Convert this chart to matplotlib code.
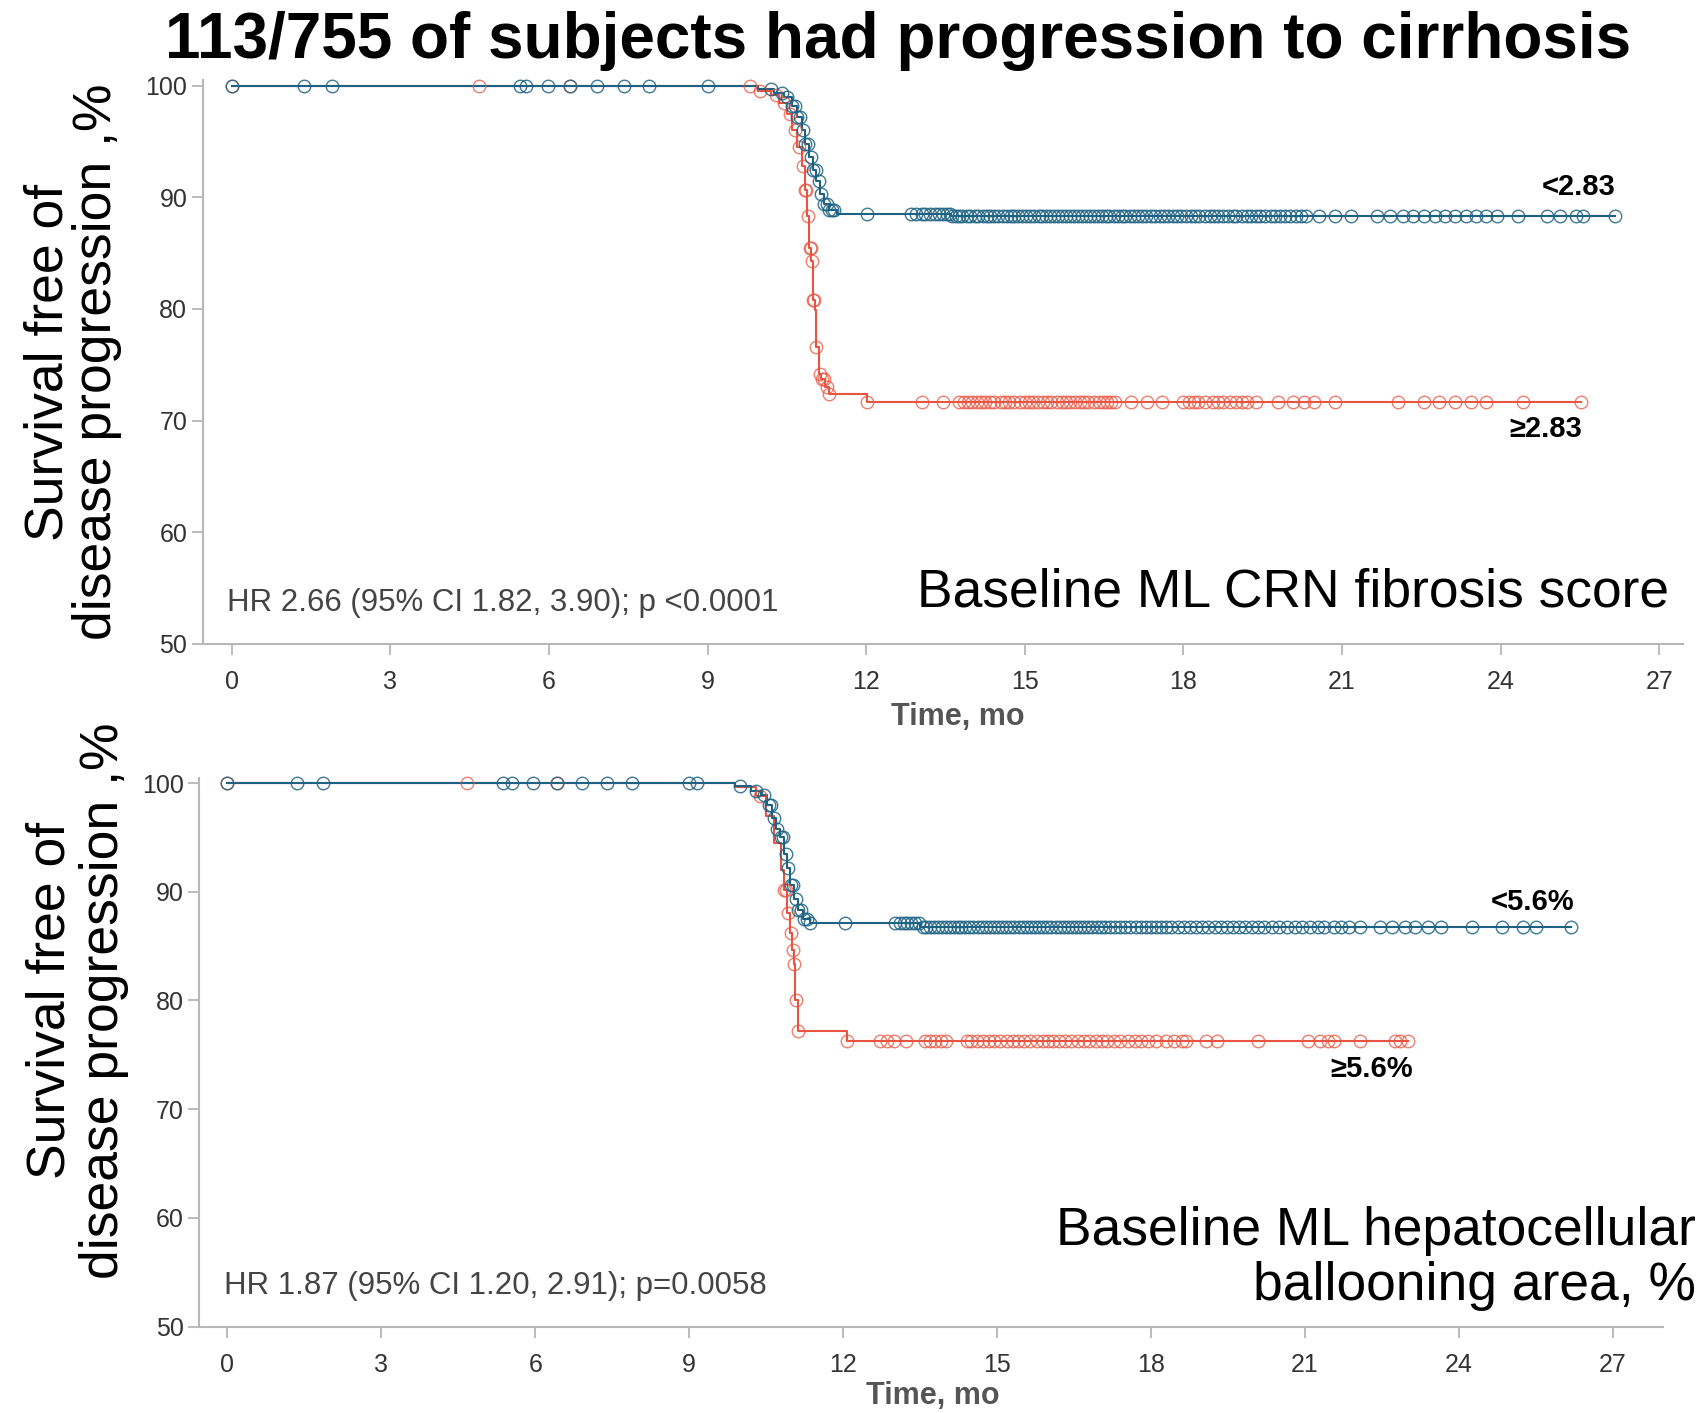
import numpy as np
import matplotlib
matplotlib.use("Agg")
import matplotlib.pyplot as plt

plt.rcParams['font.family'] = ['Liberation Sans', 'DejaVu Sans']

BLUE = '#1d6283'
RED = '#e8543f'

# ---- top panel: ML CRN fibrosis score ----
top_blue_t = [0, 9.95, 10.25, 10.45, 10.6, 10.7, 10.78, 10.85, 10.92, 10.99, 11.06, 11.12, 11.2, 11.3, 11.44, 13.6]
top_blue_s = [100, 99.7, 99.4, 99.0, 98.2, 97.2, 96.0, 94.8, 93.6, 92.5, 91.5, 90.3, 89.4, 88.9, 88.5, 88.3]
top_red_t = [0, 9.95, 10.2, 10.35, 10.5, 10.6, 10.69, 10.78, 10.84, 10.88, 10.92, 10.96, 11.0, 11.03, 11.06, 11.1, 11.15, 11.22, 11.3, 12.01]
top_red_s = [100, 99.5, 99.2, 98.5, 97.5, 96.0, 94.5, 92.8, 90.7, 88.3, 85.5, 84.3, 80.8, 79.9, 76.6, 74.2, 73.7, 73.0, 72.4, 71.7]

top_blue_cens = [0, 1.36, 1.89, 5.45, 5.57, 5.98, 6.40, 6.91, 7.42, 7.90, 9.01,
                 10.2, 10.4, 10.5, 10.6, 10.65, 10.7, 10.75, 10.8, 10.85, 10.9, 10.95, 11.0,
                 11.05, 11.1, 11.15, 11.2, 11.25, 11.3, 11.35, 11.4,
                 12.01, 12.85, 12.95, 13.05, 13.12, 13.2, 13.3, 13.38, 13.45, 13.52, 13.58, 13.63,
                 13.7, 13.76, 13.82, 13.9, 13.97, 14.05, 14.12, 14.2, 14.28, 14.35, 14.42, 14.5,
                 14.58, 14.66, 14.73, 14.8, 14.88, 14.95, 15.03, 15.1, 15.18, 15.26, 15.33, 15.4,
                 15.48, 15.55, 15.63, 15.7, 15.78, 15.86, 15.93, 16.0, 16.08, 16.16, 16.24, 16.3,
                 16.38, 16.46, 16.53, 16.6, 16.68, 16.76, 16.84, 16.9, 16.98, 17.06, 17.14, 17.22,
                 17.3, 17.38, 17.46, 17.55, 17.63, 17.7, 17.8, 17.88, 17.96, 18.05, 18.14, 18.22,
                 18.3, 18.4, 18.5, 18.58, 18.66, 18.75, 18.84, 18.93, 19.0, 19.1, 19.2, 19.28,
                 19.37, 19.45, 19.55, 19.65, 19.74, 19.83, 19.92, 20.02, 20.12, 20.22, 20.32,
                 20.57, 20.87, 21.16, 21.66, 21.9, 22.15, 22.35, 22.55, 22.75, 22.94, 23.14,
                 23.34, 23.54, 23.73, 23.93, 24.33, 24.87, 25.12, 25.42, 25.56, 26.16]
top_red_cens = [0, 4.67, 6.40, 9.8, 10.0, 10.3, 10.45, 10.55, 10.65, 10.72, 10.8, 10.84,
                10.86, 10.9, 10.93, 10.95, 10.98, 11.0, 11.02, 11.06, 11.13, 11.17, 11.2,
                11.25, 11.3, 12.01, 13.05, 13.45, 13.75, 13.85, 13.93, 14.0, 14.1, 14.18,
                14.25, 14.35, 14.42, 14.55, 14.63, 14.7, 14.8, 14.9, 15.0, 15.08, 15.15,
                15.25, 15.35, 15.42, 15.5, 15.6, 15.7, 15.78, 15.85, 15.95, 16.05, 16.12,
                16.2, 16.3, 16.4, 16.48, 16.55, 16.63, 16.71, 17.01, 17.31, 17.6, 18.0,
                18.1, 18.2, 18.28, 18.4, 18.55, 18.65, 18.75, 18.88, 19.0, 19.1, 19.2,
                19.38, 19.78, 20.08, 20.27, 20.47, 20.87, 22.05, 22.55, 22.84, 23.14,
                23.44, 23.73, 24.43, 25.51]

# ---- bottom panel: ML hepatocellular ballooning area ----
bot_blue_t = [0, 9.9, 10.2, 10.4, 10.52, 10.62, 10.7, 10.77, 10.84, 10.9, 10.97, 11.04, 11.12, 11.22, 11.35, 13.5]
bot_blue_s = [100, 99.7, 99.3, 98.9, 98.0, 96.8, 95.8, 95.0, 93.5, 92.2, 90.6, 89.3, 88.3, 87.5, 87.1, 86.8]
bot_red_t = [0, 9.9, 10.3, 10.5, 10.65, 10.78, 10.84, 10.9, 10.96, 11.0, 11.04, 11.07, 11.12, 12.07]
bot_red_s = [100, 99.6, 98.8, 97.0, 94.5, 92.0, 90.2, 88.0, 86.2, 84.6, 83.4, 80.0, 77.2, 76.3]

bot_blue_cens = [0, 1.35, 1.87, 5.38, 5.54, 5.96, 6.42, 6.91, 7.39, 7.88, 8.99, 9.15,
                 10.0, 10.3, 10.45, 10.55, 10.6, 10.66, 10.72, 10.78, 10.83, 10.88, 10.93,
                 10.98, 11.03, 11.08, 11.13, 11.18, 11.24, 11.3, 11.36,
                 12.04, 13.02, 13.1, 13.18, 13.25, 13.33, 13.4, 13.47, 13.55, 13.62, 13.7,
                 13.78, 13.85, 13.92, 14.0, 14.08, 14.16, 14.23, 14.3, 14.38, 14.46, 14.54,
                 14.62, 14.7, 14.78, 14.86, 14.94, 15.02, 15.1, 15.18, 15.26, 15.34, 15.42,
                 15.5, 15.58, 15.66, 15.74, 15.82, 15.9, 15.98, 16.06, 16.14, 16.22, 16.3,
                 16.38, 16.46, 16.54, 16.62, 16.7, 16.78, 16.86, 16.94, 17.02, 17.1, 17.2,
                 17.3, 17.4, 17.5, 17.6, 17.7, 17.8, 17.9, 18.0, 18.1, 18.2, 18.3, 18.4,
                 18.52, 18.64, 18.76, 18.88, 19.0, 19.12, 19.24, 19.36, 19.48, 19.6, 19.72,
                 19.84, 19.96, 20.08, 20.2, 20.35, 20.5, 20.65, 20.8, 20.95, 21.1, 21.25,
                 21.37, 21.57, 21.7, 21.85, 22.07, 22.47, 22.7, 22.95, 23.15, 23.4, 23.65,
                 24.25, 24.85, 25.25, 25.5, 26.19]
bot_red_cens = [0, 4.67, 6.42, 10.38, 10.84, 10.88, 10.93, 10.98, 11.02, 11.05, 11.08,
                11.12, 12.07, 12.72, 12.85, 13.0, 13.22, 13.6, 13.7, 13.8, 13.9, 14.0,
                14.41, 14.5, 14.6, 14.72, 14.85, 14.95, 15.05, 15.2, 15.31, 15.4, 15.52,
                15.65, 15.78, 15.9, 16.0, 16.1, 16.2, 16.32, 16.45, 16.58, 16.7, 16.8,
                16.92, 17.05, 17.15, 17.28, 17.4, 17.55, 17.68, 17.8, 17.95, 18.09, 18.29,
                18.45, 18.6, 18.69, 19.08, 19.28, 20.08, 21.07, 21.3, 21.45, 21.57, 22.07,
                22.76, 22.85, 23.01]

x_ticks = [0, 3, 6, 9, 12, 15, 18, 21, 24, 27]
y_ticks = [50, 60, 70, 80, 90, 100]


def km_curve(ax, t, s, cens, color, malpha):
    t = np.array(t)
    s = np.array(s)
    cens = np.array(cens)
    tend = max(cens.max(), t.max())
    ax.step(np.append(t, tend), np.append(s, s[-1]), where='post',
            color=color, lw=1.5, zorder=3, clip_on=False)
    idx = np.searchsorted(t, cens, side='right') - 1
    ax.plot(cens, s[idx], 'o', ms=9, mfc='none', mec=color, mew=1.0,
            alpha=malpha, zorder=4, clip_on=False)


def style_axes(ax, xmax):
    ax.set_xlim(-0.55, xmax)
    ax.set_ylim(50, 100.5)
    ax.set_xticks(x_ticks)
    ax.set_yticks(y_ticks)
    for side in ['top', 'right']:
        ax.spines[side].set_visible(False)
    for side in ['left', 'bottom']:
        ax.spines[side].set_color('#b8b8b8')
        ax.spines[side].set_linewidth(1.5)
    ax.tick_params(colors='#b0b0b0', labelcolor='#333333', labelsize=18,
                   length=8, width=1.2)
    ax.tick_params(axis='x', pad=11)
    ax.tick_params(axis='y', pad=3)


fig = plt.figure(figsize=(17.05, 14.13), dpi=100)
ax1 = fig.add_axes([0.1188, 0.5445, 0.8684, 0.3987])
ax2 = fig.add_axes([0.1168, 0.0611, 0.8586, 0.3886])

km_curve(ax1, top_red_t, top_red_s, top_red_cens, RED, 0.75)
km_curve(ax1, top_blue_t, top_blue_s, top_blue_cens, BLUE, 0.85)
style_axes(ax1, 27.45)

km_curve(ax2, bot_red_t, bot_red_s, bot_red_cens, RED, 0.75)
km_curve(ax2, bot_blue_t, bot_blue_s, bot_blue_cens, BLUE, 0.85)
style_axes(ax2, 27.98)

# axis labels
ax1.text(0.510, -0.131, 'Time, mo', transform=ax1.transAxes, ha='center', va='center',
         fontsize=22, fontweight='bold', color='#555555')
ax2.text(0.501, -0.127, 'Time, mo', transform=ax2.transAxes, ha='center', va='center',
         fontsize=22, fontweight='bold', color='#555555')

# annotations, top
ax1.text(25.48, 90.94, '<2.83', ha='center', va='center', fontsize=21, fontweight='bold')
ax1.text(24.86, 69.2, '≥2.83', ha='center', va='center', fontsize=21, fontweight='bold')
ax1.text(-0.08, 53.6, 'HR 2.66 (95% CI 1.82, 3.90); p <0.0001', ha='left', va='center',
         fontsize=22.5, color='#444444')
ax1.text(27.18, 54.6, 'Baseline ML CRN fibrosis score', ha='right', va='center',
         fontsize=38.4, color='black')

# annotations, bottom
ax2.text(25.44, 89.1, '<5.6%', ha='center', va='center', fontsize=21, fontweight='bold')
ax2.text(22.31, 73.7, '≥5.6%', ha='center', va='center', fontsize=21, fontweight='bold')
ax2.text(-0.06, 53.7, 'HR 1.87 (95% CI 1.20, 2.91); p=0.0058', ha='left', va='center',
         fontsize=22.5, color='#444444')
ax2.text(28.62, 56.25, 'Baseline ML hepatocellular\nballooning area, %', ha='right',
         va='center', multialignment='right', fontsize=38.4, linespacing=1.12,
         color='black', clip_on=False)

# y labels and title
fig.text(0.0427, 0.7437, 'Survival free of\ndisease progression ,%', rotation=90,
         ha='center', va='center', multialignment='center', fontsize=38.5, linespacing=0.98)
fig.text(0.0453, 0.2918, 'Survival free of\ndisease progression ,%', rotation=90,
         ha='center', va='center', multialignment='center', fontsize=38.5, linespacing=1.1)
fig.text(0.527, 0.9707, '113/755 of subjects had progression to cirrhosis',
         ha='center', va='center', fontsize=46, fontweight='bold')

fig.savefig('out.png', dpi=100)
